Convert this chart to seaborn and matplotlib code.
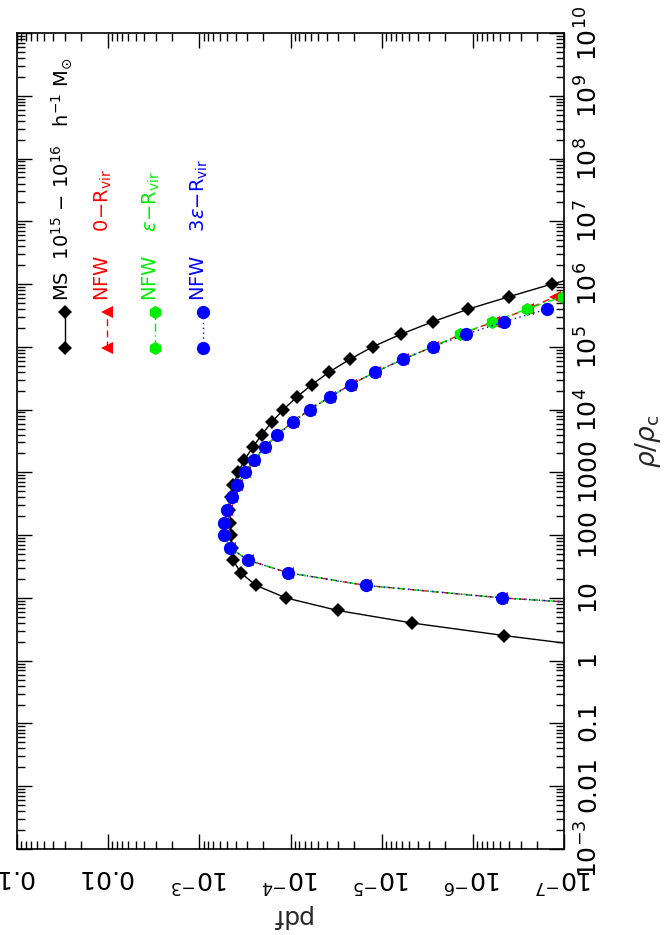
import numpy as np
import pandas as pd
import matplotlib
matplotlib.use('Agg')
import matplotlib.pyplot as plt
import matplotlib.ticker as mticker
import seaborn as sns

# log10(rho/rho_c) bin centres and log10(pdf)
ms_logrho = [0.2, 0.4, 0.6, 0.8, 1.0, 1.2, 1.4, 1.6, 1.8, 2.0, 2.2, 2.4, 2.6, 2.8, 3.0, 3.2,
             3.4, 3.6, 3.8, 4.0, 4.2, 4.4, 4.6, 4.8, 5.0, 5.2, 5.4, 5.6, 5.8, 6.0, 6.2]
ms_logpdf = [-7.45, -6.345, -5.336, -4.518, -3.951, -3.621, -3.454, -3.372, -3.355, -3.344,
             -3.336, -3.329, -3.344, -3.372, -3.427, -3.495, -3.585, -3.684, -3.794, -3.921,
             -4.068, -4.236, -4.426, -4.649, -4.900, -5.209, -5.560, -5.947, -6.400, -6.865, -7.40]

nfw_logrho = [0.8, 1.0, 1.2, 1.4, 1.6, 1.8, 2.0, 2.2, 2.4, 2.6, 2.8, 3.0, 3.2, 3.4, 3.6,
              3.8, 4.0, 4.2, 4.4, 4.6, 4.8, 5.0, 5.2, 5.4, 5.6, 5.8]
nfw0_logpdf = [-8.5, -6.323, -4.823, -3.976, -3.537, -3.336, -3.270, -3.270, -3.307, -3.355,
               -3.416, -3.501, -3.596, -3.717, -3.857, -4.022, -4.210, -4.430, -4.663, -4.932,
               -5.231, -5.560, -5.870, -6.230, -6.600, -6.900]
nfweps_logpdf = [-8.5, -6.323, -4.823, -3.976, -3.537, -3.336, -3.270, -3.270, -3.307, -3.355,
                 -3.416, -3.501, -3.596, -3.717, -3.857, -4.022, -4.210, -4.430, -4.663, -4.932,
                 -5.231, -5.560, -5.859, -6.214, -6.591, -6.985]

nfw3_logrho = [0.8, 1.0, 1.2, 1.4, 1.6, 1.8, 2.0, 2.2, 2.4, 2.6, 2.8, 3.0, 3.2, 3.4, 3.6,
               3.8, 4.0, 4.2, 4.4, 4.6, 4.8, 5.0, 5.2, 5.4, 5.6]
nfw3_logpdf = [-8.5, -6.323, -4.823, -3.976, -3.537, -3.336, -3.270, -3.270, -3.307, -3.355,
               -3.416, -3.501, -3.596, -3.717, -3.857, -4.022, -4.210, -4.430, -4.663, -4.932,
               -5.231, -5.560, -5.925, -6.342, -6.810]

pdf_ticks = [1e-1, 1e-2, 1e-3, 1e-4, 1e-5, 1e-6, 1e-7]
pdf_labels = ['$0.1$', '$0.01$', '$10^{-3}$', '$10^{-4}$', '$10^{-5}$', '$10^{-6}$', '$10^{-7}$']
rho_ticks = [1e-3, 1e-2, 1e-1, 1, 10, 100, 1000, 1e4, 1e5, 1e6, 1e7, 1e8, 1e9, 1e10]
rho_labels = ['$10^{-3}$', '$0.01$', '$0.1$', '$1$', '$10$', '$100$', '$1000$', '$10^{4}$',
              '$10^{5}$', '$10^{6}$', '$10^{7}$', '$10^{8}$', '$10^{9}$', '$10^{10}$']

legend_labels = [r'MS  10$^{15}$ $-$ 10$^{16}$   h$^{-1}$ M$_{\odot}$',
                 r'NFW    0$-$R$_{\rm vir}$',
                 r'NFW    $\epsilon$$-$R$_{\rm vir}$',
                 r'NFW    3$\epsilon$$-$R$_{\rm vir}$']

sns.set_style('white')
plt.rcParams['font.family'] = ['DejaVu Sans']
plt.rcParams['mathtext.fontset'] = 'dejavusans'

fig = plt.figure(figsize=(6.7, 9.35), dpi=100)
ax = fig.add_axes([17 / 670, 86 / 935, 547 / 670, 816 / 935])
ax.set_xscale('log')
ax.set_yscale('log')

series = [
    (ms_logrho, ms_logpdf, 'black', 'D', 7, '-'),
    (nfw_logrho, nfw0_logpdf, 'red', '<', 9, (0, (5, 3))),
    (nfw_logrho, nfweps_logpdf, '#00ee00', 'h', 9.5, (0, (6, 2.5, 1, 2.5))),
    (nfw3_logrho, nfw3_logpdf, 'blue', 'o', 9.5, (0, (1, 2.5))),
]
for logrho, logpdf, col, mk, ms, ls in series:
    df = pd.DataFrame({'rho': 10 ** np.array(logrho), 'pdf': 10 ** np.array(logpdf)})
    sns.lineplot(data=df, x='pdf', y='rho', orient='y', estimator=None, sort=True,
                 color=col, marker=mk, markersize=ms, linestyle=ls, linewidth=1.0,
                 markeredgewidth=0, ax=ax)

ax.set_xlim(1e-1, 1e-7)
ax.set_ylim(1e-3, 1e10)

ax.set_xticks(pdf_ticks, pdf_labels)
ax.set_yticks(rho_ticks, rho_labels)
ax.xaxis.set_minor_locator(mticker.LogLocator(base=10, subs=np.arange(2, 10), numticks=100))
ax.yaxis.set_minor_locator(mticker.LogLocator(base=10, subs=np.arange(2, 10), numticks=100))
ax.xaxis.set_minor_formatter(mticker.NullFormatter())
ax.yaxis.set_minor_formatter(mticker.NullFormatter())

ax.tick_params(which='both', direction='in', top=True, bottom=True, left=True, right=True,
               labelleft=False, labelright=True, labelbottom=True, labeltop=False,
               width=1.0, colors='black', labelsize=18)
ax.tick_params(which='major', length=11)
ax.tick_params(which='minor', length=5.5)
ax.tick_params(axis='x', pad=15)
ax.tick_params(axis='y', pad=24)

for t in ax.xaxis.get_major_ticks():
    t.label1.set_rotation(180)
    t.label1.set_rotation_mode('anchor')
    t.label1.set_ha('center')
    t.label1.set_va('baseline')
for t in ax.yaxis.get_major_ticks():
    t.label2.set_rotation(90)
    t.label2.set_rotation_mode('anchor')
    t.label2.set_ha('center')
    t.label2.set_va('baseline')

for sp in ax.spines.values():
    sp.set_linewidth(1.2)
    sp.set_color('black')

ax.set_xlabel('pdf', fontsize=18, rotation=180)
ax.xaxis.set_label_coords(0.5, -0.068)
ax.yaxis.set_label_position('right')
ax.set_ylabel(r'$\rho/\rho_{\rm c}$', fontsize=19, rotation=90)
ax.yaxis.set_label_coords(1.126, 0.5)

# legend drawn rotated, as in the reference
leg_x = [0.088, 0.1645, 0.2523, 0.340]
for (logrho, logpdf, col, mk, ms, ls), lx, lab in zip(series, leg_x, legend_labels):
    ax.plot([lx, lx], [0.614, 0.658], transform=ax.transAxes, color=col, marker=mk,
            markersize=ms, linestyle=ls, linewidth=1.0, markeredgewidth=0, clip_on=False)
    ax.text(lx - 0.006, 0.671, lab, transform=ax.transAxes, rotation=90, color=col,
            fontsize=14, ha='center', va='bottom')

fig.savefig('out.png', dpi=100, facecolor='white')
